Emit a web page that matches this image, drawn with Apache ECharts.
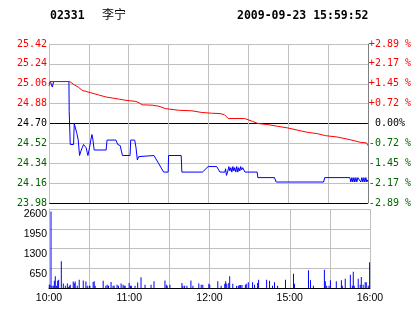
<!DOCTYPE html>
<html><head><meta charset="utf-8">
<script src="https://cdn.jsdelivr.net/npm/echarts@6/dist/echarts.min.js"></script>
<style>html,body{margin:0;padding:0;background:#fff}#c{width:414px;height:314px}</style>
</head><body><div id="c"></div><script>
// time axis: minutes of trading session (0 = 10:00, 240 = 16:00)
const timeTickLabels = ['10:00','','11:00','','12:00','','15:00','','16:00'];
const pctTickLabels = ['-2.89 %','-2.17 %','-1.45 %','-0.72 %',' 0.00%','+0.72 %','+1.45 %','+2.17 %','+2.89 %'];
const prevClose = 24.70;

// blue line: price
const priceTimes = [0,1,2.5,3.5,15,15.2,16,18.5,19,20,21,22,23,24,25,26,27.5,28,28.7,29.3,30.5,31.5,32.3,33,34,43,43.7,50.4,51.7,53.6,54.5,55.3,61,61.5,64.5,65.5,66.5,67.5,68.5,79,86.3,89.7,90,99.5,100,115.5,119.8,126.2,128.7,132.4,132.9,133.6,134.4,135.4,136.1,136.9,137.6,138.4,139.1,139.8,140.6,141.3,142.1,142.8,143.6,144.3,145.0,145.8,146.8,147.5,156.7,157.2,169.7,171,206.7,207.5,226.5,227.2,228,228.7,229.5,230.2,231,231.7,232.5,234,234.7,235.5,236.2,237,237.7,238.5,239.2,240];
const priceValues = [25.06,25.08,25.03,25.08,25.08,24.81,24.51,24.51,24.70,24.70,24.61,24.55,24.41,24.45,24.48,24.51,24.51,24.48,24.44,24.41,24.48,24.55,24.60,24.56,24.46,24.46,24.55,24.55,24.51,24.50,24.45,24.41,24.41,24.55,24.55,24.48,24.37,24.40,24.41,24.41,24.26,24.26,24.41,24.41,24.26,24.26,24.31,24.31,24.26,24.26,24.29,24.23,24.26,24.31,24.27,24.30,24.26,24.31,24.27,24.30,24.26,24.31,24.26,24.30,24.27,24.31,24.28,24.30,24.31,24.26,24.26,24.21,24.21,24.17,24.17,24.21,24.21,24.17,24.21,24.17,24.21,24.17,24.21,24.17,24.21,24.21,24.17,24.21,24.17,24.21,24.17,24.21,24.17,24.19];

// red line: average price
const avgTimes = [0,1,15.6,17,19,22,25,28,31,34,38,43,48,53,57.9,65.3,67.8,70.2,77.7,82.7,87.7,97.6,107.5,115,122.4,128.7,132,134.9,147.3,148.3,153,157.2,164.7,172,179.6,187,194.5,202,208,216.8,226.7,234.2,239,240];
const avgValues = [25.04,25.08,25.08,25.07,25.05,25.03,25.00,24.99,24.98,24.97,24.956,24.94,24.93,24.92,24.91,24.90,24.887,24.869,24.866,24.856,24.835,24.82,24.815,24.80,24.793,24.79,24.78,24.745,24.745,24.73,24.72,24.70,24.69,24.675,24.66,24.64,24.62,24.608,24.59,24.578,24.553,24.53,24.524,24.50];

// volume bars
const volTimes = [0.2,0.7,1.5,2.2,3.2,4.0,4.7,5.7,6.5,7.2,9.2,10.7,12.2,13.7,14.4,15.2,15.9,18.1,18.9,19.6,21.1,22.6,25.6,27.6,28.6,30.1,30.6,33.0,33.8,34.5,40.5,42.5,43.5,44.5,46.4,47.9,48.7,50.9,51.9,53.9,55.4,56.2,56.9,59.9,60.9,61.6,64.3,66.3,68.8,71.8,76.3,78.5,86.7,87.7,88.4,90.4,99.4,100.1,101.4,103.1,106.1,107.6,112.0,113.8,115,119.5,120.2,126.2,128.7,131.4,132.1,132.9,134.4,135.1,137.4,140.3,141.6,142.6,143.3,144.3,146.8,147.5,149.0,152.2,153.7,156,156.7,162.7,164.9,167.1,168.6,170.9,176.8,182.8,183.5,194.0,195.5,197.7,205.9,206.6,207.6,209.4,210.4,214.8,218.6,219.3,221.5,225.3,226.8,227.5,228.2,231.2,232.7,233.5,234.9,236.4,237.2,238.7,239.7];
const volValues = [110,110,2520,70,70,240,385,70,240,275,880,145,70,145,30,70,110,210,160,210,70,275,250,210,70,70,70,200,220,70,240,70,110,70,200,70,70,110,70,145,110,70,70,165,70,70,70,185,350,110,110,220,250,110,70,110,165,70,70,70,250,70,145,110,110,143,110,220,77,143,220,143,165,384,143,77,77,100,100,100,110,143,186,186,110,165,274,274,241,77,186,77,274,472,143,581,252,77,603,220,77,77,252,220,252,77,307,439,77,537,77,307,110,362,110,186,186,77,845];

const RED = '#ff0000', GREEN = '#006400', GRID = '#c0c0c0';

function priceColor(v){ v = Math.round(v*100)/100; return v > prevClose ? RED : (v < prevClose ? GREEN : '#000'); }

const chart = echarts.init(document.getElementById('c'), null, {renderer:'canvas'});
chart.setOption({
  animation: false,
  backgroundColor: '#fff',
  title: [
    {text:'02331', left:50, top:10, padding:0, textStyle:{fontFamily:'DejaVu Sans Mono', fontWeight:'bold', fontSize:11.5, color:'#000'}},
    {text:'李宁', left:102, top:8, padding:0, textStyle:{fontFamily:'Noto Sans CJK SC', fontWeight:'normal', fontSize:12, color:'#000'}},
    {text:'2009-09-23 15:59:52', left:237, top:10, padding:0, textStyle:{fontFamily:'DejaVu Sans Mono', fontWeight:'bold', fontSize:11.5, color:'#000'}}
  ],
  grid: [
    {left:49, top:44, width:321, height:159},
    {left:49, top:209, width:321, height:79}
  ],
  xAxis: [
    {type:'value', gridIndex:0, min:0, max:240, interval:30,
     axisLine:{show:false}, axisTick:{show:false}, axisLabel:{show:false},
     splitLine:{show:true, lineStyle:{color:GRID, width:1}}},
    {type:'value', gridIndex:1, min:0, max:240, interval:30,
     axisLine:{show:true, lineStyle:{color:'#000', width:1}}, axisTick:{show:false},
     axisLabel:{show:true, showMinLabel:true, showMaxLabel:true, margin:5, fontFamily:'Liberation Sans', fontSize:10.5, color:'#000',
       formatter:(v)=>timeTickLabels[Math.round(v/30)] || ''},
     splitLine:{show:true, lineStyle:{color:GRID, width:1}}}
  ],
  yAxis: [
    {type:'value', gridIndex:0, position:'left', min:23.98, max:25.42, interval:0.18,
     axisLine:{show:true, lineStyle:{color:GRID}}, axisTick:{show:false},
     axisLabel:{showMinLabel:true, showMaxLabel:true, margin:2, fontFamily:'DejaVu Sans Mono', fontSize:10,
       formatter:(v)=>v.toFixed(2), color:(v)=>priceColor(Number(v))},
     splitLine:{show:true, lineStyle:{width:1, color:['#000',GRID,GRID,GRID,'#000',GRID,GRID,GRID,GRID]}}},
    {type:'value', gridIndex:0, position:'right', min:-4, max:4, interval:1,
     axisLine:{show:true, lineStyle:{color:'#808080'}}, axisTick:{show:false},
     axisLabel:{showMinLabel:true, showMaxLabel:true, margin:1, fontFamily:'DejaVu Sans Mono', fontSize:10,
       formatter:(v)=>pctTickLabels[Math.round(v)+4],
       color:(v)=>{const n=Math.round(Number(v)); return n>0?RED:(n<0?GREEN:'#000');}},
     splitLine:{show:false}},
    {type:'value', gridIndex:1, position:'left', min:0, max:2600, interval:650,
     axisLine:{show:true, lineStyle:{color:GRID}}, axisTick:{show:false},
     axisLabel:{showMinLabel:true, showMaxLabel:true, margin:2, fontFamily:'Liberation Sans', fontSize:10.5, color:'#000', verticalAlign:'top',
       formatter:(v)=> v===0 ? '' : String(v)},
     splitLine:{show:true, lineStyle:{color:GRID, width:1}}}
  ],
  series: [
    {name:'price', type:'line', xAxisIndex:0, yAxisIndex:0, showSymbol:false, symbol:'none',
     lineStyle:{color:'#0000ff', width:1}, data: priceTimes.map((t,i)=>[t, priceValues[i]])},
    {name:'avg', type:'line', xAxisIndex:0, yAxisIndex:0, showSymbol:false, symbol:'none',
     lineStyle:{color:'#ff0000', width:1}, data: avgTimes.map((t,i)=>[t, avgValues[i]])},
    {name:'volume', type:'bar', xAxisIndex:1, yAxisIndex:2, barWidth:1,
     itemStyle:{color:'#0000ff'}, data: volTimes.map((t,i)=>[t, volValues[i]])}
  ]
});
</script></body></html>
